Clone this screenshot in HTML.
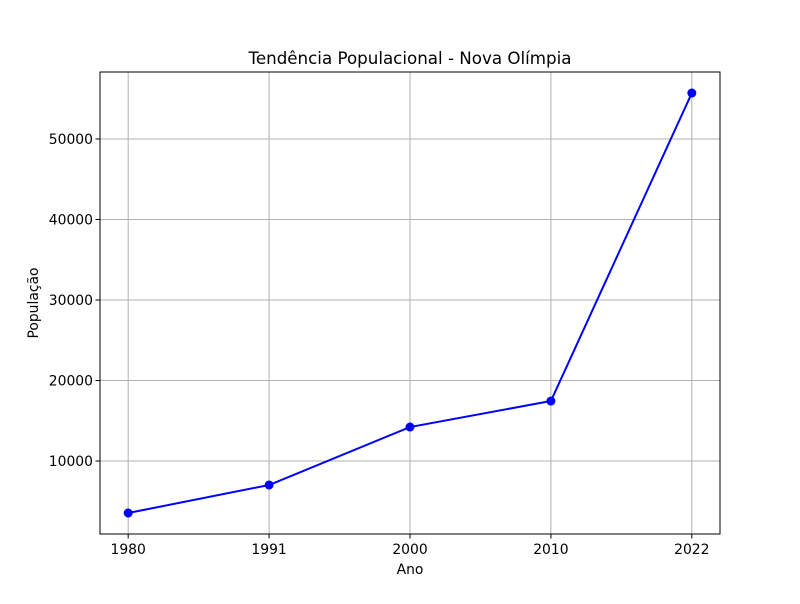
<!DOCTYPE html>
<html><head><meta charset="utf-8"><style>
body{margin:0;background:#fff;font-family:"DejaVu Sans","Liberation Sans",sans-serif}
</style></head><body>
<svg id="chart" width="800" height="600" xmlns="http://www.w3.org/2000/svg" font-family="DejaVu Sans, Liberation Sans, sans-serif">
<rect width="800" height="600" fill="#fff"/>
<g id="grid"></g>
<g id="axes"></g>
<g id="series"></g>
<text x="410" y="64" text-anchor="middle" font-size="16.7">Tendência Populacional - Nova Olímpia</text>
<text x="410" y="574" text-anchor="middle" font-size="13.9">Ano</text>
<text x="38" y="303" text-anchor="middle" font-size="13.9" transform="rotate(-90 38 303)">População</text>
</svg>
<script>
const categories = ["1980","1991","2000","2010","2022"];
const populationValues = [3540, 7020, 14220, 17450, 55710];
const yTickValues = [10000, 20000, 30000, 40000, 50000];

const NS="http://www.w3.org/2000/svg";
const L=100,R=720,T=72,B=534;
const xScale=i=>L+(i+0.2)*(R-L)/4.4;
const yScale=v=>541.5-v*0.00805;
function mk(tag,attrs,parent,text){const e=document.createElementNS(NS,tag);for(const k in attrs)e.setAttribute(k,attrs[k]);if(text!==undefined)e.textContent=text;parent.appendChild(e);return e;}
const grid=document.getElementById('grid'),axes=document.getElementById('axes'),series=document.getElementById('series');
categories.forEach((c,i)=>{
  const x=xScale(i);
  const g=mk('line',{x1:x,x2:x,y1:T,y2:B,stroke:'#b0b0b0','stroke-width':1},grid);
  
  
  const t=mk('line',{x1:x,x2:x,y1:B,y2:B+4.5,stroke:'#000','stroke-width':1},axes);
  
  
  const l=mk('text',{x:x,y:B+20,'text-anchor':'middle','font-size':13.9},axes,c);
  
  
});
yTickValues.forEach(v=>{
  const y=yScale(v);
  const g=mk('line',{x1:L,x2:R,y1:y,y2:y,stroke:'#b0b0b0','stroke-width':1},grid);
  
  
  const t=mk('line',{x1:L-4.5,x2:L,y1:y,y2:y,stroke:'#000','stroke-width':1},axes);
  
  
  const l=mk('text',{x:L-7,y:y+5,'text-anchor':'end','font-size':13.9},axes,String(v));
  
  
});
const frame=mk('rect',{x:L,y:T,width:R-L,height:B-T,fill:'none',stroke:'#000','stroke-width':1},axes);


const pts=populationValues.map((v,i)=>xScale(i)+','+yScale(v)).join(' ');
const line=mk('polyline',{points:pts,fill:'none',stroke:'#0000ff','stroke-width':2},series);


populationValues.forEach((v,i)=>{
  const c=mk('circle',{cx:xScale(i),cy:yScale(v),r:4.5,fill:'#0000ff'},series);
  
  
});
</script>
</body></html>
